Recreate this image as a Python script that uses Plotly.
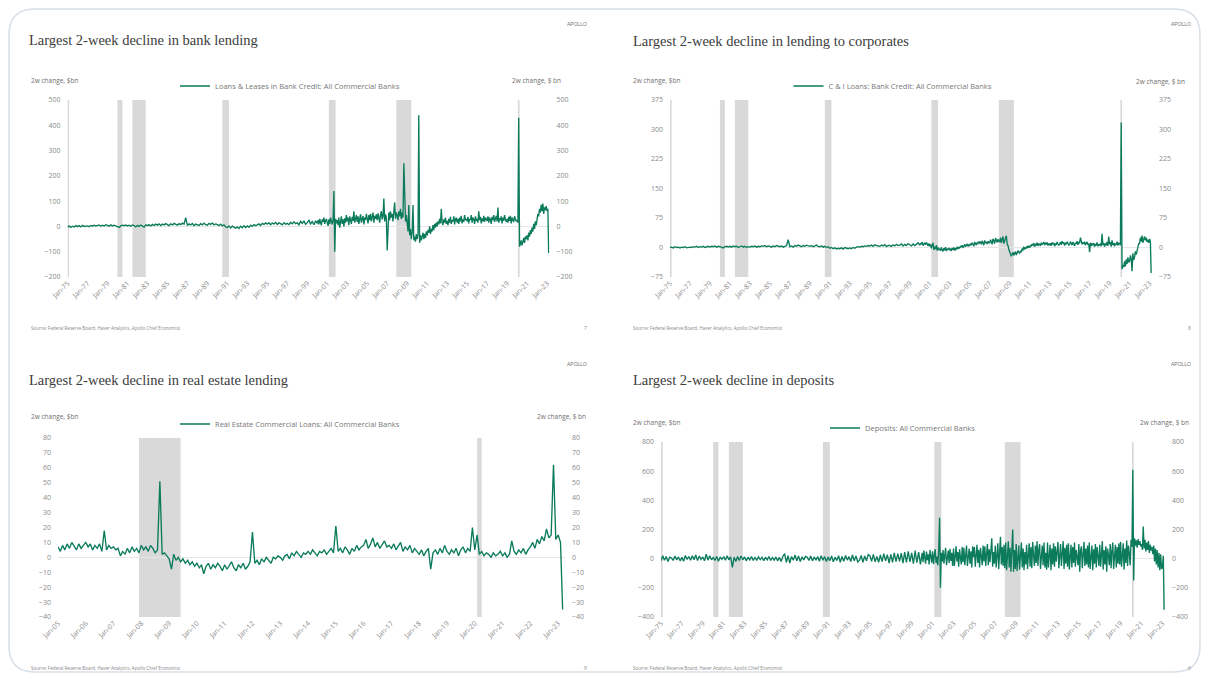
import pandas as pd
import plotly.graph_objects as go

# page offset (browser body margin) and figure size
OFF = 8
W, H = 1209 - OFF, 679 - OFF

TITLES = [
    "Largest 2-week decline in bank lending",
    "Largest 2-week decline in lending to corporates",
    "Largest 2-week decline in real estate lending",
    "Largest 2-week decline in deposits",
]
SERIES_NAMES = [
    "Loans & Leases in Bank Credit: All Commercial Banks",
    "C & I Loans: Bank Credit: All Commercial Banks",
    "Real Estate Commercial Loans: All Commercial Banks",
    "Deposits: All Commercial Banks",
]
SOURCE = "Source: Federal Reserve Board, Haver Analytics, Apollo Chief Economist"
PAGES = ["7", "8", "9", "6"]

RECESSIONS = [
    ("1973-11-01", "1975-03-01"), ("1980-01-01", "1980-07-01"),
    ("1981-07-01", "1982-11-01"), ("1990-07-01", "1991-03-01"),
    ("2001-03-01", "2001-11-01"), ("2007-12-01", "2009-06-01"),
    ("2020-02-01", "2020-04-01"),
]

# 2-week changes, $bn. 1975-1999: every 2 months (Jan, Mar, May, Jul, Sep, Nov)
LOANS_EARLY = [
    [-3, 2, -4, 1, -2, 3], [-1, 3, -2, 4, 0, 2], [2, -1, 4, 1, 5, 2], [3, 6, 1, 5, 2, 7],
    [4, 1, 6, 2, 5, 3], [1, -4, 2, 5, 3, 6], [2, 5, 1, 6, 3, -2], [4, 0, 5, 2, -3, 6],
    [3, 7, 2, 8, 4, 9], [5, 10, 3, 9, 6, 11], [7, 3, 10, 6, 12, 8], [5, 11, 7, 13, 9, 35],
    [4, 10, 6, 12, 3, 9], [8, 4, 11, 6, 13, 7], [5, 12, 8, 14, 6, 10], [7, 3, 9, 2, 6, -2],
    [-4, 2, -6, 1, -3, -7], [-2, -8, 1, -5, 3, -4], [2, -3, 5, 0, 7, 3], [6, 10, 4, 12, 8, 14],
    [9, 15, 7, 13, 10, 16], [8, 14, 11, 6, 15, 9], [12, 7, 16, 10, 18, 11], [14, 6, 20, 12, 22, 8],
    [15, 24, 10, 19, 7, 22],
]
# 2000 - Mar 2023: monthly
LOANS_LATE = [
    [12, 25, 8, 30, 15, 5, 28, 18, 35, 10, 22, 30],
    [15, 2, 28, 10, 35, 20, 8, 25, 140, -100, 30, 12],
    [25, 5, 35, -5, 20, 40, 10, 28, 0, 32, 15, 45],
    [20, 35, 5, 40, 25, 10, 38, 22, 60, 15, 30, 45],
    [18, 40, 10, 32, 48, 15, 30, 42, 8, 35, 25, 50],
    [30, 12, 45, 25, 50, 20, 38, 55, 15, 42, 30, 48],
    [25, 52, 35, 15, 45, 60, 28, 40, 110, 20, 48, 35],
    [-95, 40, 55, 25, 60, 35, 50, 20, 65, 95, 30, 55],
    [45, 25, 60, 40, 70, 30, 55, 35, 250, 60, 20, 45],
    [10, -20, 85, -35, -10, -50, -25, 85, -55, -40, -60, -30],
    [-50, -35, 440, -65, -35, -55, -40, -25, -50, -30, -45, -20],
    [-35, -15, -25, 0, -30, -10, -20, 5, -15, 10, -5, 15],
    [0, 20, 8, 30, 12, 70, 18, 5, 28, 15, 35, 10],
    [22, 5, 30, 15, 38, 10, 25, 20, 40, 8, 28, 35],
    [15, 30, 10, 35, 20, 42, 12, 28, 18, 45, 25, 30],
    [20, 38, 12, 30, 25, 45, 15, 35, 28, 10, 40, 22],
    [30, 15, 60, 25, 38, 12, 32, 20, 42, 18, 35, 28],
    [22, 40, 15, 35, 28, 10, 38, 25, 45, 18, 30, 42],
    [20, 75, 15, 32, 25, 40, 12, 35, 22, 45, 28, 18],
    [30, 15, 38, 22, 42, 12, 35, 25, 18, 40, 28, 20],
    [25, 15, 430, -80, -70, -55, -75, -60, -45, -65, -40, -50],
    [-35, -55, -25, -40, -15, -30, -5, -20, 10, -10, 20, 5],
    [35, 50, 40, 70, 55, 85, 60, 90, 50, 75, 65, 80],
    [60, 70, -105],
]

CI_EARLY = [
    [0, 1, -1, 2, 0, 1], [-1, 1, 0, 2, -1, 1], [1, 0, 2, 1, 3, 0], [2, 1, 3, 0, 2, 3],
    [1, 3, 2, 4, 1, 3], [2, 0, -1, 2, 3, 1], [3, 1, 4, 2, 3, 0], [2, 4, 1, 3, 0, 2],
    [1, 3, 2, 4, 1, 3], [2, 4, 3, 5, 2, 4], [3, 1, 4, 2, 5, 3], [2, 4, 1, 3, 5, 20],
    [2, 4, 1, 5, 3, 6], [4, 2, 5, 3, 6, 4], [3, 5, 2, 4, 6, 3], [2, 4, 1, 3, 0, 2],
    [-2, 0, -3, -1, -4, -2], [-3, -1, -4, 0, -2, -3], [-1, -3, 0, -2, 1, 2], [1, 3, 2, 4, 3, 5],
    [4, 6, 3, 7, 5, 4], [3, 6, 4, 7, 2, 5], [5, 3, 7, 4, 8, 5], [6, 9, 4, 8, 5, 10],
    [7, 4, 9, 5, 8, 12],
]
CI_LATE = [
    [6, 11, 8, 14, 5, 10, 12, 7, 13, 9, 4, 10],
    [3, 8, -2, 5, 12, -6, 2, -4, 6, -8, 0, -5],
    [-4, -8, 0, -6, -10, -2, -7, 1, -9, -3, -6, -1],
    [-7, -3, -9, -1, -6, 0, -8, -2, -5, 2, -4, 1],
    [-2, 4, 1, 6, -1, 3, 8, 2, 5, 9, 3, 7],
    [5, 10, 6, 12, 8, 3, 14, 9, 6, 12, 10, 15],
    [10, 15, 8, 17, 12, 6, 18, 11, 14, 9, 16, 12],
    [12, 20, 14, 8, 22, 16, 10, 24, 18, 13, 21, 15],
    [15, 25, 12, 20, 28, 10, 18, 22, 30, 8, 5, -5],
    [-10, -15, -22, -18, -12, -20, -16, -10, -19, -14, -8, -12],
    [-14, -8, -12, -4, -6, 2, -5, 0, -3, 4, -1, 3],
    [0, 6, 3, 9, 5, 11, 2, 8, 6, 12, 4, 9],
    [8, 4, 12, 7, 10, 14, 6, 11, 9, 13, 5, 10],
    [6, 11, 4, 13, 8, 12, 3, 10, 7, 14, 9, 5],
    [9, 14, 7, 16, 10, 13, 5, 12, 8, 15, 11, 6],
    [8, 15, 11, 6, 14, 10, 4, 12, 9, 16, 7, 13],
    [12, 25, 10, 8, 13, 9, 15, 6, 11, 14, 7, 10],
    [-12, 12, 4, 10, 6, 11, 2, 9, 5, 13, 3, 8],
    [5, 10, 3, 35, 6, 12, 2, 9, 7, 14, 4, 28],
    [8, 14, 2, 18, 6, 12, 3, 10, 7, 15, 5, 11],
    [10, 6, 318, -55, -45, -50, -35, -48, -30, -42, -25, -38],
    [-35, -20, -28, -60, -15, -32, -25, -10, -18, -5, 2, 10],
    [10, 25, 15, 30, 12, 22, 28, 18, 25, 14, 20, 12],
    [22, 15, -65],
]

# monthly, Jan 2005 - Mar 2023
RE_ROWS = [
    [7, 4, 8, 5, 9, 6, 10, 7, 5, 9, 6, 8],
    [10, 7, 9, 5, 8, 6, 9, 4, 18, 5, 8, 6],
    [7, 5, 6, 1, 4, 2, 6, 3, 7, 4, 6, 3],
    [8, 5, 7, 4, 8, 6, 3, 5, 51, 2, 3, 1],
    [-1, -8, 2, -2, 0, -3, -1, -4, -2, -5, -3, -6],
    [-4, -7, -5, -11, -6, -4, -8, -5, -7, -4, -6, -9],
    [-5, -8, -6, -3, -7, -9, -5, -7, -4, -8, -6, -3],
    [17, -4, -2, -5, -1, -3, 0, -2, -4, 0, -1, 1],
    [0, -2, 1, 2, -1, 3, 1, 4, 2, 0, 3, 2],
    [4, 2, 5, 3, 1, 4, 3, 5, 2, 4, 6, 3],
    [21, 4, 6, 3, 7, 5, 2, 6, 4, 8, 5, 7],
    [8, 12, 6, 9, 13, 7, 10, 6, 9, 11, 7, 8],
    [6, 9, 5, 8, 10, 4, 7, 5, 8, 3, 6, 4],
    [2, 5, 1, 4, 6, -8, 3, 5, 2, 6, 3, 8],
    [4, 2, 5, 3, 6, 1, 5, 7, 3, 6, 4, 20],
    [5, 15, 2, 4, 1, 3, 2, 0, 3, 1, 2, 4],
    [1, 3, 0, 2, 11, 4, 2, 5, 3, 6, 2, 5],
    [7, 10, 6, 12, 9, 14, 11, 19, 13, 15, 62, 12],
    [15, 10, -35],
]

DEP_EARLY = [
    [-15, 20, -10, 15, -20, 10], [5, -12, 18, -8, 12, -15], [10, -18, 22, -5, 15, -10], [20, -8, 25, -12, 18, -5],
    [12, -15, 30, -10, 20, -8], [8, -12, 15, -18, 10, -5], [15, -10, 20, -8, 12, -60], [10, -20, 15, -12, 18, -8],
    [12, -15, 10, -8, 14, -12], [8, -10, 12, -6, 10, -14], [10, -8, 15, -12, 8, -10], [12, -15, 10, -20, 15, 35],
    [-25, 20, -30, 15, -10, 25], [-15, 18, -20, 12, -8, 15], [10, -12, 18, -15, 12, -10], [15, -18, 20, -10, 14, -20],
    [12, -15, 18, -22, 10, -12], [20, -25, 15, -18, 22, -10], [14, -20, 25, -15, 18, -22], [-10, 22, -25, 18, -15, 28],
    [20, -18, 30, -22, 15, -25], [25, -20, 35, -15, 28, -30], [30, -25, 40, -20, 35, -18], [38, -30, 45, -25, 50, -22],
    [40, -35, 55, -28, 45, -40],
]
DEP_LATE = [
    [40, -25, 55, 10, -35, 48, -10, 30, -40, 60, 5, -28],
    [50, -38, 20, 65, -30, 15, -45, 58, 280, -200, 40, -20],
    [60, -35, 25, 75, -45, 10, 55, -30, 68, -15, 40, -50],
    [70, -50, 30, 85, -20, 45, -55, 65, 5, -40, 80, -25],
    [75, -45, 20, 90, -50, 35, 70, -35, 50, -60, 85, 10],
    [80, -55, 40, 95, -30, 60, -60, 75, 15, -45, 90, -20],
    [85, -50, 30, 100, -45, 65, -25, 70, 140, -55, 45, -35],
    [90, -60, 50, 105, -70, 20, 150, -40, 80, -50, 95, -65],
    [110, -80, 40, 120, -60, 75, -90, 85, 200, -90, 60, -70],
    [100, -85, 55, 90, -75, 30, 110, -60, 70, -80, 45, -40],
    [95, -70, 35, 105, -55, 80, -65, 115, 20, -50, 90, -30],
    [120, -50, 60, 100, -70, 25, 90, -45, 110, -60, 40, -75],
    [110, -60, 30, 95, -80, 70, -40, 105, -55, 85, -20, 60],
    [115, -65, 45, 100, -50, 20, 120, -70, 75, -35, 95, -55],
    [105, -75, 35, 95, -60, 80, -30, 110, -55, 60, 10, -45],
    [100, -90, 55, 85, -65, 25, 115, -50, 70, -40, 90, -60],
    [110, -70, 40, 90, -80, 65, -35, 100, -60, 80, 15, -50],
    [95, -55, 30, 120, -75, 60, -40, 85, -90, 70, 20, -45],
    [100, -65, 50, 110, -70, 25, 95, -60, 80, -35, 105, -40],
    [115, -55, 45, 105, -75, 70, -30, 125, -50, 90, 35, -45],
    [130, 80, 610, -150, 140, 90, 125, 75, 135, 95, 120, 85],
    [100, 60, 220, 70, 130, 50, 110, 60, 120, 40, 95, 55],
    [80, 30, 90, -20, 70, -40, 60, -60, 40, -80, 30, -70],
    [-60, 20, -350],
]

Y_TICKS = [
    [-200, -100, 0, 100, 200, 300, 400, 500],
    [-75, 0, 75, 150, 225, 300, 375],
    [-40, -30, -20, -10, 0, 10, 20, 30, 40, 50, 60, 70, 80],
    [-400, -200, 0, 200, 400, 600, 800],
]


def flat(rows):
    return [v for r in rows for v in r]


def two_part(early_rows, late_rows):
    early, late = flat(early_rows), flat(late_rows)
    d1 = pd.date_range("1975-01-01", periods=len(early), freq="2MS")
    d2 = pd.date_range("2000-01-01", periods=len(late), freq="MS")
    return list(d1) + list(d2), early + late


re_vals = flat(RE_ROWS)
series = [
    two_part(LOANS_EARLY, LOANS_LATE),
    two_part(CI_EARLY, CI_LATE),
    (list(pd.date_range("2005-01-01", periods=len(re_vals), freq="MS")), re_vals),
    two_part(DEP_EARLY, DEP_LATE),
]


def px(x):
    return (x - OFF) / W


def py(y):
    return 1 - (y - OFF) / H


# layout geometry in page pixels: (x0, x1, ytop, ybottom)
GEOM = [
    (67.5, 549.5, 100, 277),
    (670, 1152, 100, 277),
    (58, 565, 438, 617),
    (661, 1165, 442, 617),
]
XRANGES = [
    ("1975-01-01", "2023-04-01"), ("1975-01-01", "2023-04-01"),
    ("2005-01-01", "2023-04-01"), ("1975-01-01", "2023-04-01"),
]
XTICK = [("1975-01-01", "M24"), ("1975-01-01", "M24"), ("2005-01-01", "M12"), ("1975-01-01", "M24")]
LEGEND_POS = [(290, 86), (893, 86), (290, 424), (903, 428)]

LINE = "#0b7b5b"
TICKFONT = dict(family="Open Sans, Liberation Sans, sans-serif", size=7, color="#8a8a8a")

fig = go.Figure()
layout = dict(
    width=W, height=H, margin=dict(l=0, r=0, t=0, b=0, pad=0, autoexpand=False),
    paper_bgcolor="white", plot_bgcolor="white", showlegend=True,
)
shapes = []
annotations = []

for i in range(4):
    n = i + 1
    xa = "x" if n == 1 else f"x{n}"
    ya = "y" if n == 1 else f"y{n}"
    yr = f"y{n + 4}"
    lg = "legend" if n == 1 else f"legend{n}"
    x0, x1, yt, yb = GEOM[i]
    ticks = Y_TICKS[i]
    yrange = [ticks[0], ticks[-1]]
    dates, vals = series[i]

    fig.add_trace(go.Scatter(
        x=dates, y=vals, mode="lines", name=SERIES_NAMES[i],
        line=dict(color=LINE, width=1.35), xaxis=xa, yaxis=ya, legend=lg,
    ))
    fig.add_trace(go.Scatter(
        x=[dates[0]], y=[None], mode="lines", showlegend=False, hoverinfo="skip",
        xaxis=xa, yaxis=yr,
    ))

    layout["xaxis" if n == 1 else f"xaxis{n}"] = dict(
        domain=[px(x0), px(x1)], anchor=ya, type="date", range=list(XRANGES[i]),
        tick0=XTICK[i][0], dtick=XTICK[i][1], tickformat="%b-%y", tickangle=-45,
        showgrid=False, zeroline=False, showline=False, ticks="", automargin=False,
        tickfont=TICKFONT,
    )
    layout["yaxis" if n == 1 else f"yaxis{n}"] = dict(
        domain=[py(yb), py(yt)], anchor=xa, range=yrange, tickvals=ticks,
        showgrid=False, zeroline=True, zerolinecolor="#e6e6e6", zerolinewidth=1,
        showline=False, ticks="", tickfont=TICKFONT, ticklabelstandoff=6, automargin=False,
    )
    layout[f"yaxis{n + 4}"] = dict(
        overlaying=ya, anchor=xa, side="right", range=yrange, tickvals=ticks,
        showgrid=False, zeroline=False, showline=False, ticks="", automargin=False,
        tickfont=TICKFONT, ticklabelstandoff=6,
    )
    lx, ly = LEGEND_POS[i]
    layout[lg] = dict(
        x=px(lx), y=py(ly), xanchor="center", yanchor="middle", orientation="h",
        font=dict(family="Open Sans, Liberation Sans, sans-serif", size=7.5, color="#777"),
        bgcolor="rgba(0,0,0,0)", itemwidth=30,
    )

    # recession shading
    lo = pd.Timestamp(XRANGES[i][0])
    for s, e in RECESSIONS:
        s_t, e_t = pd.Timestamp(s), pd.Timestamp(e)
        if e_t <= lo:
            continue
        shapes.append(dict(
            type="rect", xref=xa, yref=f"{ya} domain", x0=max(s_t, lo), x1=e_t, y0=0, y1=1,
            fillcolor="#d9d9d9", line=dict(width=0), layer="below",
        ))

# texts
TITLE_POS = [(27, 40), (631, 41), (27, 380), (631, 380)]
LT_POS = [(29, 80), (631, 80), (29, 417), (631, 422)]
RT_POS = [(563, 80), (1187, 81), (588, 417), (1191, 422)]
LOGO_POS = [(589, 24), (1193, 24), (589, 364), (1193, 364)]
SRC_POS = [(29, 328), (631, 328), (29, 668), (631, 668)]
PG_POS = [(589, 328), (1193, 328), (589, 668), (1193, 668)]

small = dict(family="Open Sans, Liberation Sans, sans-serif", size=6.5, color="#6f6f6f")
for i in range(4):
    tx, ty = TITLE_POS[i]
    annotations.append(dict(x=px(tx), y=py(ty), xref="paper", yref="paper", text=TITLES[i],
                            showarrow=False, xanchor="left", yanchor="middle",
                            font=dict(family="Liberation Serif, DejaVu Serif, serif", size=14.5, color="#3c3c3c")))
    x, y = LT_POS[i]
    annotations.append(dict(x=px(x), y=py(y), xref="paper", yref="paper", text="2w change, $bn",
                            showarrow=False, xanchor="left", yanchor="middle", font=small))
    x, y = RT_POS[i]
    annotations.append(dict(x=px(x), y=py(y), xref="paper", yref="paper", text="2w change, $ bn",
                            showarrow=False, xanchor="right", yanchor="middle", font=small))
    x, y = LOGO_POS[i]
    annotations.append(dict(x=px(x), y=py(y), xref="paper", yref="paper", text="APOLLO",
                            showarrow=False, xanchor="right", yanchor="middle",
                            font=dict(family="Liberation Sans, sans-serif", size=5, color="#777")))
    x, y = SRC_POS[i]
    annotations.append(dict(x=px(x), y=py(y), xref="paper", yref="paper", text=SOURCE,
                            showarrow=False, xanchor="left", yanchor="middle",
                            font=dict(family="Open Sans, Liberation Sans, sans-serif", size=4.5, color="#888")))
    x, y = PG_POS[i]
    annotations.append(dict(x=px(x), y=py(y), xref="paper", yref="paper", text=PAGES[i],
                            showarrow=False, xanchor="right", yanchor="middle",
                            font=dict(family="Open Sans, Liberation Sans, sans-serif", size=5, color="#888")))

# outer rounded frame
bx0, by0, bx1, by1, r = 9, 9, 1200, 672, 26
rx, ry = r / W, r / H
X0, X1, Y0, Y1 = px(bx0), px(bx1), py(by1), py(by0)
path = (f"M {X0 + rx} {Y1} L {X1 - rx} {Y1} Q {X1} {Y1} {X1} {Y1 - ry} "
        f"L {X1} {Y0 + ry} Q {X1} {Y0} {X1 - rx} {Y0} L {X0 + rx} {Y0} "
        f"Q {X0} {Y0} {X0} {Y0 + ry} L {X0} {Y1 - ry} Q {X0} {Y1} {X0 + rx} {Y1} Z")
shapes.append(dict(type="path", xref="paper", yref="paper", path=path,
                   line=dict(color="#d8dfe8", width=1.5), layer="above"))

layout["shapes"] = shapes
layout["annotations"] = annotations
fig.update_layout(**layout)
fig.write_html("out.html")
